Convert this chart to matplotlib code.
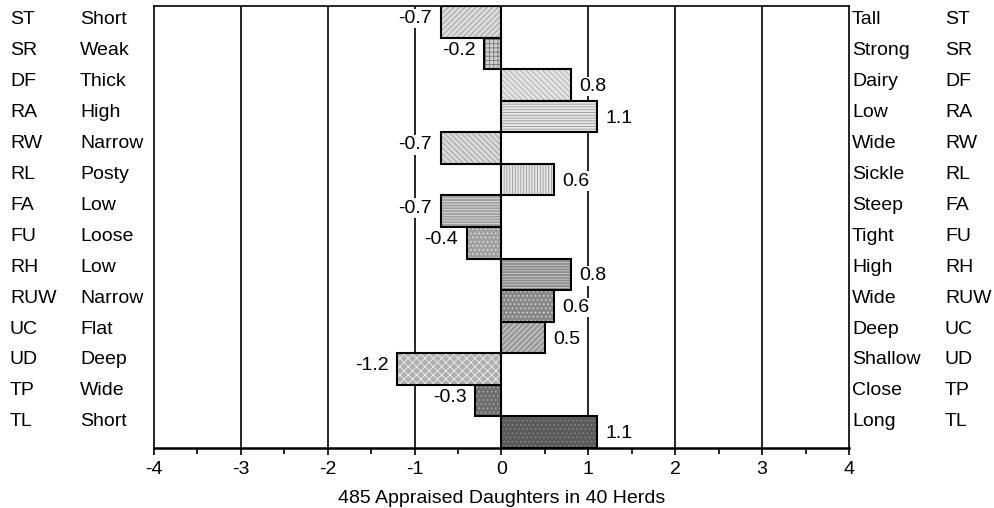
import numpy as np
import matplotlib.pyplot as plt

plt.rcParams['font.family'] = ['Liberation Sans', 'DejaVu Sans']
plt.rcParams['hatch.linewidth'] = 0.6

traits = ["ST", "SR", "DF", "RA", "RW", "RL", "FA", "FU", "RH", "RUW", "UC", "UD", "TP", "TL"]
low_desc = ["Short", "Weak", "Thick", "High", "Narrow", "Posty", "Low", "Loose", "Low", "Narrow",
            "Flat", "Deep", "Wide", "Short"]
high_desc = ["Tall", "Strong", "Dairy", "Low", "Wide", "Sickle", "Steep", "Tight", "High", "Wide",
             "Deep", "Shallow", "Close", "Long"]
values = [-0.7, -0.2, 0.8, 1.1, -0.7, 0.6, -0.7, -0.4, 0.8, 0.6, 0.5, -1.2, -0.3, 1.1]
xticks = [-4, -3, -2, -1, 0, 1, 2, 3, 4]
xlabel = "485 Appraised Daughters in 40 Herds"

# fill colour / hatch colour / hatch pattern per bar
fills = ["#dcdcdc", "#d0d0d0", "#e4e4e4", "#e8e8e8", "#dadada", "#e6e6e6", "#a0a0a0",
         "#a0a0a0", "#8c8c8c", "#888888", "#9a9a9a", "#b0b0b0", "#6e6e6e", "#5a5a5a"]
hcols = ["#9a9a9a", "#777777", "#aaaaaa", "#999999", "#999999", "#999999", "#e0e0e0",
         "#e0e0e0", "#d0d0d0", "#d8d8d8", "#e0e0e0", "#f0f0f0", "#aaaaaa", "#888888"]
hatches = ["//////", "++++", "\\\\\\\\\\\\", "------", "\\\\\\\\\\\\", "||||||", "------",
           "....", "------", "....", "//////", "xxxx", "....", "...."]

fs = 14

fig = plt.figure(figsize=(9.95, 5.08), dpi=100)
ax = fig.add_axes([154 / 995, 1 - 448 / 508, 695 / 995, 442 / 508])

n = len(traits)
y = np.arange(n)

for gx in [-3, -2, -1, 1, 2, 3]:
    ax.axvline(gx, color="black", lw=1.2, zorder=0)

for i in range(n):
    ax.barh(y[i], values[i], height=1.0, color=fills[i], edgecolor=hcols[i],
            hatch=hatches[i], lw=0, zorder=2)
    ax.barh(y[i], values[i], height=1.0, color="none", edgecolor="black", lw=1.5, zorder=3)
    v = values[i]
    if v < 0:
        ax.text(v - 0.1, y[i] - 0.1, f"{v:.1f}", ha="right", va="center", fontsize=fs,
                zorder=4, bbox=dict(facecolor="white", edgecolor="none", pad=1))
    else:
        ax.text(v + 0.1, y[i] + 0.05, f"{v:.1f}", ha="left", va="center", fontsize=fs,
                zorder=4, bbox=dict(facecolor="white", edgecolor="none", pad=1))

ax.set_xlim(-4, 4)
ax.set_ylim(n - 0.5, -0.5)
ax.set_xticks(xticks)
ax.set_xticklabels([str(t) for t in xticks], fontsize=fs)
ax.set_xticks(np.arange(-3.5, 4, 1.0), minor=True)
ax.tick_params(axis="x", which="major", direction="out", length=5, width=1.2, pad=4)
ax.tick_params(axis="x", which="minor", direction="out", length=4, width=1.2)
ax.set_yticks([])
for s in ax.spines.values():
    s.set_linewidth(1.2)
ax.spines["bottom"].set_linewidth(1.8)
ax.set_xlabel(xlabel, fontsize=fs, labelpad=9)

# side labels sit on a slightly tighter spacing than the bars
for i in range(n):
    ty = 1 - (20 + i * 30.9) / 508
    fig.text(10 / 995, ty, traits[i], ha="left", va="center", fontsize=fs)
    fig.text(80 / 995, ty, low_desc[i], ha="left", va="center", fontsize=fs)
    fig.text(852 / 995, ty, high_desc[i], ha="left", va="center", fontsize=fs)
    fig.text(945 / 995, ty, traits[i], ha="left", va="center", fontsize=fs)

fig.savefig("out.png", dpi=100)
